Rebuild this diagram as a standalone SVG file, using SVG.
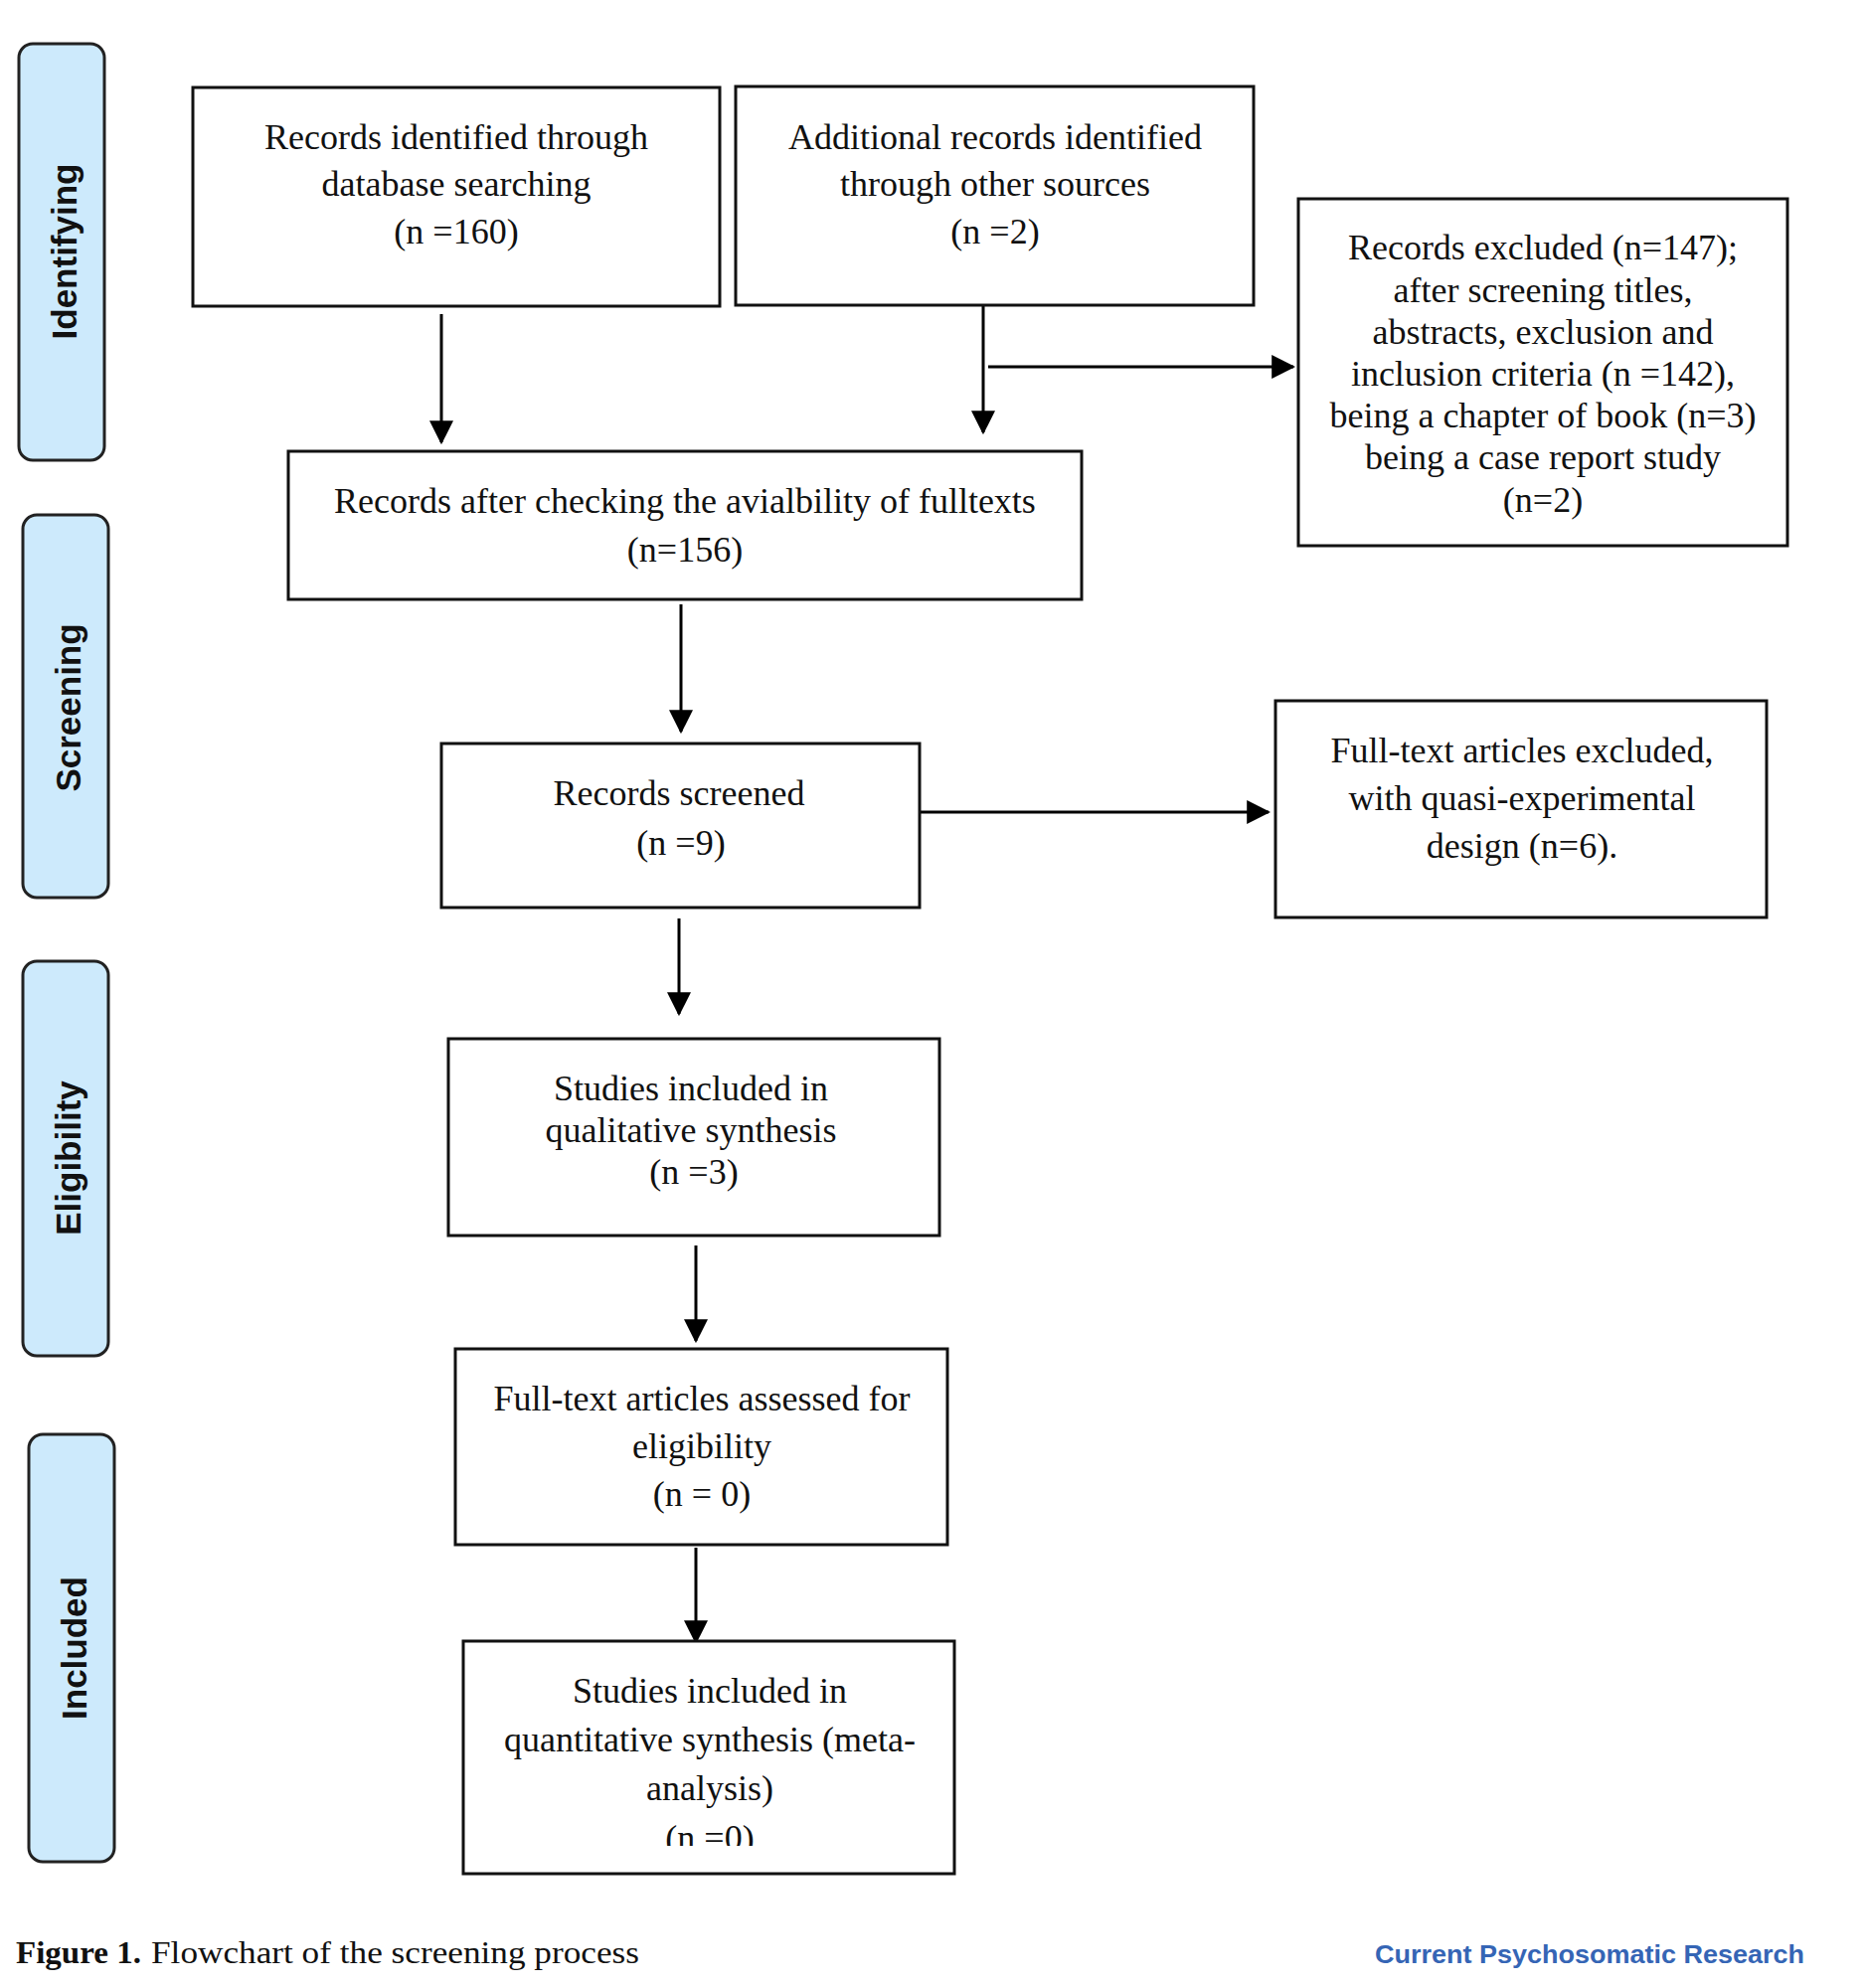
<svg xmlns="http://www.w3.org/2000/svg" width="1877" height="2000" viewBox="0 0 1877 2000">
<defs>
<style>
.box{fill:#fff;stroke:#111;stroke-width:3}
.lab{fill:#cdeafc;stroke:#222;stroke-width:3}
.t{font-family:"Liberation Serif","Times New Roman",serif;font-size:36px;fill:#111;text-anchor:middle}
.lt{font-family:"Liberation Sans",Arial,sans-serif;font-size:35px;font-weight:bold;fill:#111;text-anchor:middle}
.c{stroke:#000;stroke-width:3;fill:none;marker-end:url(#ah)}
</style>
<marker id="ah" markerUnits="userSpaceOnUse" markerWidth="24" markerHeight="24" viewBox="0 0 22 22" refX="20" refY="11" orient="auto">
<path d="M0,0 L22,11 L0,22 z" fill="#000"/>
</marker>
<clipPath id="clipq"><rect x="466" y="1651" width="494" height="206"/></clipPath>
</defs>
<rect width="1877" height="2000" fill="#fff"/>

<g id="label-identifying">
<rect class="lab" x="19" y="44" width="86" height="419" rx="14"/>
<text class="lt" transform="translate(77,253) rotate(-90)">Identifying</text>
</g>
<g id="label-screening">
<rect class="lab" x="23" y="518" width="86" height="385" rx="14"/>
<text class="lt" transform="translate(81,712) rotate(-90)">Screening</text>
</g>
<g id="label-eligibility">
<rect class="lab" x="23" y="967" width="86" height="397" rx="14"/>
<text class="lt" transform="translate(81,1165) rotate(-90)">Eligibility</text>
</g>
<g id="label-included">
<rect class="lab" x="29" y="1443" width="86" height="430" rx="14"/>
<text class="lt" transform="translate(87,1658) rotate(-90)">Included</text>
</g>

<g id="connectors">
<line class="c" x1="444" y1="316" x2="444" y2="445"/>
<line class="c" x1="989" y1="307" x2="989" y2="435"/>
<line class="c" x1="994" y1="369" x2="1301" y2="369"/>
<line class="c" x1="685" y1="608" x2="685" y2="736"/>
<line class="c" x1="925" y1="817" x2="1276" y2="817"/>
<line class="c" x1="683" y1="924" x2="683" y2="1020"/>
<line class="c" x1="700" y1="1253" x2="700" y2="1349"/>
<line class="c" x1="700" y1="1557" x2="700" y2="1652"/>
</g>

<g id="node-db">
<rect class="box" x="194" y="88" width="530" height="220"/>
<text class="t" x="459" y="150">Records identified through</text>
<text class="t" x="459" y="197">database searching</text>
<text class="t" x="459" y="245">(n =160)</text>
</g>
<g id="node-other">
<rect class="box" x="740" y="87" width="521" height="220"/>
<text class="t" x="1001" y="150">Additional records identified</text>
<text class="t" x="1001" y="197">through other sources</text>
<text class="t" x="1001" y="245">(n =2)</text>
</g>
<g id="node-excluded1">
<rect class="box" x="1306" y="200" width="492" height="349"/>
<text class="t" x="1552" y="261">Records excluded (n=147);</text>
<text class="t" x="1552" y="304">after screening titles,</text>
<text class="t" x="1552" y="346">abstracts, exclusion and</text>
<text class="t" x="1552" y="388">inclusion criteria (n =142),</text>
<text class="t" x="1552" y="430">being a chapter of book (n=3)</text>
<text class="t" x="1552" y="472">being a case report study</text>
<text class="t" x="1552" y="515">(n=2)</text>
</g>
<g id="node-fulltext">
<rect class="box" x="290" y="454" width="798" height="149"/>
<text class="t" x="689" y="516">Records after checking the avialbility of fulltexts</text>
<text class="t" x="689" y="565">(n=156)</text>
</g>
<g id="node-screened">
<rect class="box" x="444" y="748" width="481" height="165"/>
<text class="t" x="683" y="810">Records screened</text>
<text class="t" x="685" y="860">(n =9)</text>
</g>
<g id="node-excluded2">
<rect class="box" x="1283" y="705" width="494" height="218"/>
<text class="t" x="1531" y="767">Full-text articles excluded,</text>
<text class="t" x="1531" y="815">with quasi-experimental</text>
<text class="t" x="1531" y="863">design (n=6).</text>
</g>
<g id="node-qualitative">
<rect class="box" x="451" y="1045" width="494" height="198"/>
<text class="t" x="695" y="1107">Studies included in</text>
<text class="t" x="695" y="1149">qualitative synthesis</text>
<text class="t" x="698" y="1191">(n =3)</text>
</g>
<g id="node-assessed">
<rect class="box" x="458" y="1357" width="495" height="197"/>
<text class="t" x="706" y="1419">Full-text articles assessed for</text>
<text class="t" x="706" y="1467">eligibility</text>
<text class="t" x="706" y="1515">(n = 0)</text>
</g>
<g id="node-quantitative">
<rect class="box" x="466" y="1651" width="494" height="234"/>
<text class="t" x="714" y="1713">Studies included in</text>
<text class="t" x="714" y="1762">quantitative synthesis (meta-</text>
<text class="t" x="714" y="1811">analysis)</text>
<text class="t" x="714" y="1861" clip-path="url(#clipq)">(n =0)</text>
</g>

<g id="caption">
<text x="16" y="1975" font-family="'Liberation Serif','Times New Roman',serif" font-size="32" font-weight="bold" fill="#111" textLength="126" lengthAdjust="spacingAndGlyphs">Figure 1.</text>
<text x="152" y="1975" font-family="'Liberation Serif','Times New Roman',serif" font-size="32" fill="#111" textLength="491" lengthAdjust="spacingAndGlyphs">Flowchart of the screening process</text>
<text x="1383" y="1975" font-family="'Liberation Sans',Arial,sans-serif" font-size="26" font-weight="bold" fill="#3565b5" textLength="432" lengthAdjust="spacingAndGlyphs">Current Psychosomatic Research</text>
</g>
</svg>
